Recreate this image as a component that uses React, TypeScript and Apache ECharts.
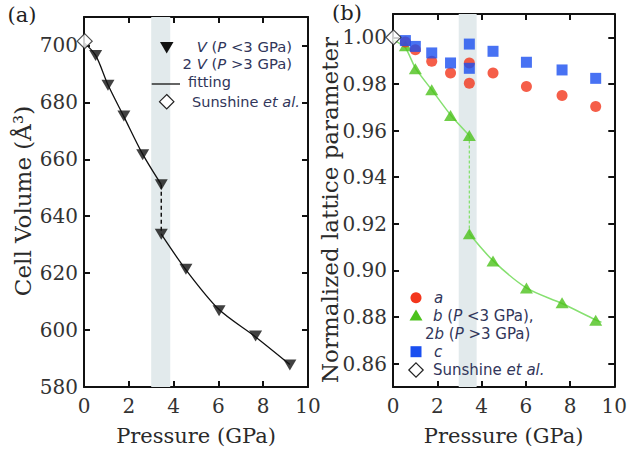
import React, { useEffect, useRef } from "react";
import * as echarts from "echarts";

// ---- Panel (a): cell volume ----
const volPressure = [0.52, 1.07, 1.78, 2.62, 3.45, 3.45, 4.55, 6.03, 7.66, 9.19];
const volValues = [696.5, 686.0, 675.2, 661.6, 651.1, 633.7, 621.4, 606.8, 597.9, 587.7];
const volFitLow: [number, number][] = [[0, 701], [0.52, 696.5], [1.07, 686.2], [1.78, 675.0], [2.62, 661.8], [3.45, 651.1]];
const volFitHigh: [number, number][] = [[3.45, 633.7], [4.55, 621.2], [6.03, 607.2], [7.66, 597.6], [9.19, 587.9]];
const volJump: [number, number][] = [[3.45, 651.1], [3.45, 633.7]];
const volSunshine: [number, number][] = [[0.03, 701.5]];
const volTicks = [580, 600, 620, 640, 660, 680, 700];

// ---- Panel (b): normalized lattice parameters ----
const latPressure = [0.56, 1.01, 1.75, 2.6, 3.45, 3.45, 4.52, 6.03, 7.64, 9.16];
const aValues = [0.998, 0.9947, 0.9897, 0.9847, 0.989, 0.9803, 0.9847, 0.9789, 0.975, 0.9703];
const cValues = [0.9986, 0.9961, 0.9933, 0.989, 0.9971, 0.9867, 0.994, 0.9893, 0.986, 0.9824];
const bValues = [0.9964, 0.9865, 0.9775, 0.9665, 0.9579, 0.9157, 0.904, 0.8925, 0.8861, 0.8786];
const bFitLow: [number, number][] = [[0, 0.999], [0.56, 0.9955], [1.01, 0.9868], [1.75, 0.9775], [2.6, 0.9667], [3.45, 0.9579]];
const bFitHigh: [number, number][] = [[3.45, 0.9157], [4.52, 0.9042], [6.03, 0.8925], [7.64, 0.8858], [9.16, 0.8788], [9.42, 0.8778]];
const bJump: [number, number][] = [[3.45, 0.9579], [3.45, 0.9157]];
const latSunshine: [number, number][] = [[0.02, 1.0]];
const latTicks = [0.86, 0.88, 0.9, 0.92, 0.94, 0.96, 0.98, 1.0];

const bandA = [3.0, 3.85];
const bandB = [2.97, 3.78];
const xTicks = { min: 0, max: 10, interval: 2 };

const RED = "#f3361c";
const GREEN = "#4cc21c";
const GREEN_LINE = "#86e070";
const BLUE = "#1a4ff0";
const BAND = "#e2eaec";
const LEG = "#31365a";
const SERIF = "DejaVu Serif";
const SANS = "DejaVu Sans";

const pair = (xs: number[], ys: number[]) => xs.map((x, i) => [x, ys[i]]);

export default function App() {
  const ref = useRef<HTMLDivElement>(null);
  useEffect(() => {
    if (!ref.current) return;
    const chart = echarts.init(ref.current, null, { renderer: "svg" });

    const baseX = (gridIndex: number, top: boolean) => ({
      type: "value" as const,
      gridIndex,
      position: top ? "top" : "bottom",
      min: xTicks.min,
      max: xTicks.max,
      interval: xTicks.interval,
      name: top ? "" : "Pressure (GPa)",
      nameLocation: "middle" as const,
      nameGap: 38,
      nameTextStyle: { fontFamily: SERIF, fontSize: 21, color: "#2a2a2a" },
      axisLine: { show: true, onZero: false, lineStyle: { color: "#111", width: 2 } },
      axisTick: { show: true, inside: true, length: 6, lineStyle: { color: "#111", width: 2 } },
      axisLabel: { show: !top, fontFamily: SERIF, fontSize: 20, color: "#333", margin: 9 },
      splitLine: { show: false },
    });
    const baseY = (gridIndex: number, right: boolean, min: number, max: number, ticks: number[], dec: number) => ({
      type: "value" as const,
      gridIndex,
      position: right ? "right" : "left",
      min,
      max,
      axisLine: { show: true, onZero: false, lineStyle: { color: "#111", width: 2 } },
      axisTick: { show: true, inside: true, length: 6, lineStyle: { color: "#111", width: 2 }, customValues: ticks },
      axisLabel: {
        show: !right,
        customValues: ticks,
        fontFamily: SERIF,
        fontSize: 20,
        color: "#333",
        margin: 6,
        formatter: (v: number) => v.toFixed(dec),
      },
      splitLine: { show: false },
    });

    const legendText = (text: string, x: number, y: number, align: string, size: number) => ({
      type: "text",
      x,
      y,
      style: {
        text,
        align,
        verticalAlign: "middle",
        fontFamily: SANS,
        fontSize: size,
        fill: LEG,
        rich: {
          i: { fontFamily: SANS, fontSize: size, fontStyle: "italic", fill: LEG },
          n: { fontFamily: SANS, fontSize: size, fill: LEG },
        },
      },
      z: 100,
    });

    chart.setOption({
      animation: false,
      backgroundColor: "#fff",
      grid: [
        { left: 84, top: 17, width: 224, height: 370 },
        { left: 393, top: 14, width: 225, height: 373 },
      ],
      xAxis: [baseX(0, false), baseX(1, false), baseX(0, true), baseX(1, true)],
      yAxis: [
        baseY(0, false, 580, 710, volTicks, 0),
        baseY(1, false, 0.85, 1.01, latTicks, 2),
        baseY(0, true, 580, 710, volTicks, 0),
        baseY(1, true, 0.85, 1.01, latTicks, 2),
      ],
      series: [
        // panel (a)
        {
          type: "line",
          xAxisIndex: 0,
          yAxisIndex: 0,
          data: volFitLow,
          symbol: "none",
          smooth: 0.3,
          lineStyle: { color: "#111", width: 1.3 },
          markArea: {
            silent: true,
            itemStyle: { color: BAND },
            data: [[{ xAxis: bandA[0] }, { xAxis: bandA[1] }]],
          },
          z: 2,
        },
        {
          type: "line",
          xAxisIndex: 0,
          yAxisIndex: 0,
          data: volFitHigh,
          symbol: "none",
          smooth: 0.3,
          lineStyle: { color: "#111", width: 1.3 },
          z: 2,
        },
        {
          type: "line",
          xAxisIndex: 0,
          yAxisIndex: 0,
          data: volJump,
          symbol: "none",
          lineStyle: { color: "#111", width: 1.5, type: [4, 3] },
          z: 2,
        },
        {
          type: "scatter",
          xAxisIndex: 0,
          yAxisIndex: 0,
          data: pair(volPressure, volValues),
          symbol: "triangle",
          symbolRotate: 180,
          symbolSize: [13, 11],
          itemStyle: { color: "#111" },
          z: 3,
        },
        {
          type: "scatter",
          xAxisIndex: 0,
          yAxisIndex: 0,
          data: volSunshine,
          symbol: "diamond",
          symbolSize: [15, 15],
          itemStyle: { color: "#fff", borderColor: "#222", borderWidth: 1.2 },
          z: 4,
        },
        // panel (b)
        {
          type: "line",
          xAxisIndex: 1,
          yAxisIndex: 1,
          data: bFitLow,
          symbol: "none",
          smooth: 0.2,
          lineStyle: { color: GREEN_LINE, width: 1.5 },
          markArea: {
            silent: true,
            itemStyle: { color: BAND },
            data: [[{ xAxis: bandB[0] }, { xAxis: bandB[1] }]],
          },
          z: 2,
        },
        {
          type: "line",
          xAxisIndex: 1,
          yAxisIndex: 1,
          data: bFitHigh,
          symbol: "none",
          smooth: 0.3,
          lineStyle: { color: GREEN_LINE, width: 1.5 },
          z: 2,
        },
        {
          type: "line",
          xAxisIndex: 1,
          yAxisIndex: 1,
          data: bJump,
          symbol: "none",
          lineStyle: { color: GREEN_LINE, width: 1.3, type: [3, 2] },
          z: 2,
        },
        {
          type: "scatter",
          xAxisIndex: 1,
          yAxisIndex: 1,
          data: pair(latPressure, bValues),
          symbol: "triangle",
          symbolSize: [13, 11],
          itemStyle: { color: GREEN },
          z: 3,
        },
        {
          type: "scatter",
          xAxisIndex: 1,
          yAxisIndex: 1,
          data: pair(latPressure, aValues),
          symbol: "circle",
          symbolSize: 11,
          itemStyle: { color: RED },
          z: 4,
        },
        {
          type: "scatter",
          xAxisIndex: 1,
          yAxisIndex: 1,
          data: pair(latPressure, cValues),
          symbol: "rect",
          symbolSize: 11,
          itemStyle: { color: BLUE },
          z: 5,
        },
        {
          type: "scatter",
          xAxisIndex: 1,
          yAxisIndex: 1,
          data: latSunshine,
          symbol: "diamond",
          symbolSize: [15, 15],
          itemStyle: { color: "#fff", borderColor: "#222", borderWidth: 1.2 },
          z: 6,
        },
      ],
      graphic: [
        // panel labels
        { type: "text", x: 22, y: 15, style: { text: "(a)", align: "center", verticalAlign: "middle", fontFamily: SERIF, fontSize: 21, fill: "#222" } },
        { type: "text", x: 347, y: 13, style: { text: "(b)", align: "center", verticalAlign: "middle", fontFamily: SERIF, fontSize: 21, fill: "#222" } },
        // y axis titles
        { type: "text", x: 23, y: 201, rotation: Math.PI / 2, style: { text: "Cell Volume (Å³)", align: "center", verticalAlign: "middle", fontFamily: SERIF, fontSize: 23, fill: "#2a2a2a" } },
        { type: "text", x: 330, y: 210, rotation: Math.PI / 2, style: { text: "Normalized lattice parameter", align: "center", verticalAlign: "middle", fontFamily: SERIF, fontSize: 23, fill: "#2a2a2a" } },
        // legend (a)
        { type: "polygon", shape: { points: [[160, 42], [173.5, 42], [166.7, 53.5]] }, style: { fill: "#111" }, z: 100 },
        legendText("{i|V}{n| (}{i|P}{n| <3 GPa)}", 292, 46.5, "right", 14.8),
        legendText("{n|2 }{i|V}{n| (}{i|P}{n| >3 GPa)}", 292, 63.5, "right", 14.8),
        { type: "line", shape: { x1: 151.7, y1: 84, x2: 180, y2: 84 }, style: { stroke: "#111", lineWidth: 1.3 }, z: 100 },
        legendText("{n|fitting}", 188, 82, "left", 14.5),
        { type: "polygon", shape: { points: [[166.7, 94.5], [173.9, 101.7], [166.7, 108.9], [159.5, 101.7]] }, style: { fill: "#fff", stroke: "#222", lineWidth: 1.2 }, z: 100 },
        legendText("{n|Sunshine }{i|et al.}", 192, 101.5, "left", 14.5),
        // legend (b)
        { type: "circle", shape: { cx: 416, cy: 297.7, r: 5.5 }, style: { fill: RED }, z: 100 },
        legendText("{i|a}", 434, 298, "left", 15),
        { type: "polygon", shape: { points: [[409.5, 320.5], [422.5, 320.5], [416, 309.5]] }, style: { fill: GREEN }, z: 100 },
        legendText("{i|b}{n| (}{i|P}{n| <3 GPa),}", 433, 316, "left", 15),
        legendText("{n|2}{i|b}{n| (}{i|P}{n| >3 GPa)}", 425, 333.5, "left", 15),
        { type: "rect", shape: { x: 410.5, y: 346.2, width: 11, height: 11 }, style: { fill: BLUE }, z: 100 },
        legendText("{i|c}", 434, 352, "left", 15),
        { type: "polygon", shape: { points: [[416, 362.8], [423.2, 370], [416, 377.2], [408.8, 370]] }, style: { fill: "#fff", stroke: "#222", lineWidth: 1.2 }, z: 100 },
        legendText("{n|Sunshine }{i|et al.}", 433, 369.5, "left", 15),
      ],
    });
    return () => chart.dispose();
  }, []);
  return <div ref={ref} style={{ width: 630, height: 452, position: "absolute", left: 0, top: 0 }} />;
}
